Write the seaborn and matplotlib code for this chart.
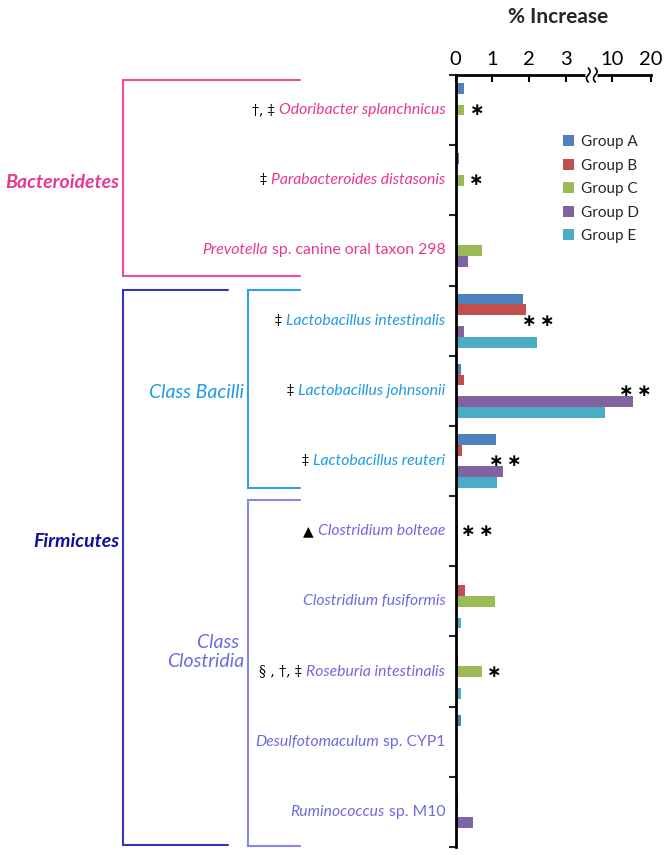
import numpy as np
import pandas as pd
import matplotlib
matplotlib.use("Agg")
import matplotlib.pyplot as plt
import seaborn as sns
from matplotlib.offsetbox import TextArea, HPacker, AnnotationBbox
from matplotlib.lines import Line2D
from matplotlib.patches import Patch

# ---------------- data ----------------
species = [
    "Odoribacter splanchnicus",
    "Parabacteroides distasonis",
    "Prevotella sp. canine oral taxon 298",
    "Lactobacillus intestinalis",
    "Lactobacillus johnsonii",
    "Lactobacillus reuteri",
    "Clostridium bolteae",
    "Clostridium fusiformis",
    "Roseburia intestinalis",
    "Desulfotomaculum sp. CYP1",
    "Ruminococcus sp. M10",
]
groups = ["Group A", "Group B", "Group C", "Group D", "Group E"]
group_a = [0.23, 0.10, 0.00, 1.84, 0.14, 1.09, 0.00, 0.00, 0.00, 0.15, 0.00]
group_b = [0.00, 0.00, 0.00, 1.91, 0.23, 0.16, 0.00, 0.24, 0.05, 0.00, 0.06]
group_c = [0.22, 0.22, 0.71, 0.00, 0.00, 0.00, 0.06, 1.07, 0.71, 0.00, 0.00]
group_d = [0.02, 0.02, 0.33, 0.23, 15.5, 1.29, 0.06, 0.00, 0.00, 0.02, 0.46]
group_e = [0.00, 0.00, 0.00, 2.21, 8.9, 1.13, 0.05, 0.14, 0.14, 0.00, 0.00]
colors = ["#4F81BD", "#C0504D", "#9BBB59", "#8064A2", "#4BACC6"]

# label pieces: (prefix symbols, italic part, roman part)
prefixes = ["\u2020, \u2021", "\u2021", "", "\u2021", "\u2021", "\u2021",
            "\u25B2", "", "\u00A7 , \u2020, \u2021", "", ""]
italic_parts = ["Odoribacter splanchnicus", "Parabacteroides distasonis", "Prevotella",
                "Lactobacillus intestinalis", "Lactobacillus johnsonii", "Lactobacillus reuteri",
                "Clostridium bolteae", "Clostridium fusiformis", "Roseburia intestinalis",
                "Desulfotomaculum", "Ruminococcus"]
roman_parts = ["", "", "sp. canine oral taxon 298", "", "", "", "", "", "", "sp. CYP1", "sp. M10"]
stars = ["*", "*", "", "**", "**", "**", "**", "", "*", "", ""]
star_x = [0.58, 0.55, 0, 2.24, 15.9, 1.34, 0.58, 0, 1.04, 0, 0]

pink = "#E8388F"
bacilli_col = "#1F9BE3"
clos_col = "#6F6AE0"
label_colors = [pink] * 3 + [bacilli_col] * 3 + [clos_col] * 5

df = pd.DataFrame({"species": species, "Group A": group_a, "Group B": group_b,
                   "Group C": group_c, "Group D": group_d, "Group E": group_e})
long = df.melt(id_vars="species", var_name="group", value_name="value")

# ---------------- style ----------------
sns.set_theme(style="white")
plt.rcParams["font.family"] = ["Lato", "DejaVu Sans"]

W, H = 671, 855
fig = plt.figure(figsize=(W / 100, H / 100), dpi=100)
ax = fig.add_axes([455.7 / W, 1 - 847 / H, 195 / W, 772 / H])

sns.barplot(data=long, x="value", y="species", hue="group", orient="h",
            order=species, hue_order=groups, palette=colors, saturation=1,
            width=0.77, errorbar=None, linewidth=0, ax=ax)

# broken x scale
P2 = 4.255
s_mid = (P2 - 3) / 7.0
s_hi = 0.1045


def fwd(v):
    v = np.asarray(v, dtype=float)
    return np.where(v <= 3, v, np.where(v <= 10, 3 + (v - 3) * s_mid, P2 + (v - 10) * s_hi))


def inv(u):
    u = np.asarray(u, dtype=float)
    return np.where(u <= 3, u, np.where(u <= P2, 3 + (u - 3) / s_mid, 10 + (u - P2) / s_hi))


ax.set_xscale("function", functions=(fwd, inv))
ax.set_xlim(0, 20)
ax.set_ylim(len(species) - 0.5, -0.5)
ax.set_xticks([0, 1, 2, 3, 10, 20], labels=["0", "1", "2", "3", "10", "20"])
ax.xaxis.tick_top()
ax.tick_params(axis="x", direction="in", length=5, width=1.5, pad=5, labelsize=14.5,
               colors="black")
ax.set_yticks(np.arange(-0.5, len(species), 1.0), labels=[])
ax.tick_params(axis="y", direction="out", length=5, width=1.5, left=True)
ax.minorticks_off()
for s in ["right", "bottom"]:
    ax.spines[s].set_visible(False)
for s in ["top", "left"]:
    ax.spines[s].set_color("black")
    ax.spines[s].set_linewidth(2)
ax.set_ylabel("")
ax.set_xlabel("% Increase", fontsize=15, fontweight="bold", va="center")
ax.xaxis.set_label_position("top")
ax.xaxis.set_label_coords((558 - 455.7) / 195, (847 - 23) / 772)

# legend
handles = [Patch(facecolor=c, edgecolor="none") for c in colors]
ax.legend(handles, groups, loc="upper left", bbox_to_anchor=(0.55, 0.922), frameon=False,
          fontsize=11, handlelength=0.75, handleheight=0.75, handletextpad=0.4,
          labelspacing=0.62, borderpad=0, borderaxespad=0)

# stars
for i, (st, sx) in enumerate(zip(stars, star_x)):
    if st:
        ax.text(sx, i, "\u2009".join("\u2217" * len(st)), ha="center", va="center",
                fontsize=12.5, fontweight="bold", color="black", family="DejaVu Sans")

# species labels
for i in range(len(species)):
    parts = []
    if prefixes[i]:
        fam = "DejaVu Sans" if prefixes[i] == "\u25B2" else "DejaVu Serif"
        parts.append(TextArea(prefixes[i], textprops=dict(color="black", fontsize=10, family=fam)))
    parts.append(TextArea(italic_parts[i], textprops=dict(color=label_colors[i], fontsize=11.3,
                                                          fontstyle="italic")))
    if roman_parts[i]:
        parts.append(TextArea(roman_parts[i], textprops=dict(color=label_colors[i], fontsize=11.3)))
    box = HPacker(children=parts, align="baseline", pad=0, sep=3)
    ab = AnnotationBbox(box, (0, i), xycoords=ax.get_yaxis_transform(),
                        xybox=(-7.5, 0), boxcoords="offset points", box_alignment=(1, 0.5),
                        frameon=False, pad=0, annotation_clip=False)
    ax.add_artist(ab)


# brackets (figure pixel coordinates)
def fig_line(xs, ys, color, lw=1.5):
    fig.add_artist(Line2D([x / W for x in xs], [1 - y / H for y in ys],
                          transform=fig.transFigure, color=color, lw=lw,
                          solid_joinstyle="miter"))


fig_line([300, 123, 123, 300], [80, 80, 276, 276], "#EE4C9E")
fig_line([228, 123, 123, 228], [290, 290, 845, 845], "#3434B4")
fig_line([300, 248, 248, 300], [290, 290, 488, 488], "#2FA0E6")
fig_line([300, 248, 248, 300], [500, 500, 846, 846], "#8686F0")

fig.text(119 / W, 1 - 182 / H, "Bacteroidetes", ha="right", va="center", fontsize=14,
         fontweight="bold", fontstyle="italic", color=pink)
fig.text(119 / W, 1 - 541 / H, "Firmicutes", ha="right", va="center", fontsize=14,
         fontweight="bold", fontstyle="italic", color="#10109E")
fig.text(244 / W, 1 - 392 / H, "Class Bacilli", ha="right", va="center", fontsize=14,
         fontstyle="italic", color=bacilli_col)
fig.text(244 / W, 1 - 652 / H, "Class \nClostridia", ha="right", va="center", fontsize=14,
         fontstyle="italic", color=clos_col, multialignment="right", linespacing=1.15)

# axis break marker
fig.canvas.draw()
xb_disp = ax.transData.transform((6.9, 0))[0]
yb_disp = ax.transAxes.transform((0, 1))[1]
xb = xb_disp
yb = H - yb_disp
fig_line([xb - 3.5, xb + 3.5], [yb, yb], "white", lw=4)
t = np.linspace(0, 2 * np.pi, 50)
for dx in (-3.5, 3.5):
    xs = xb + dx + 1.8 * np.sin(t)
    ys = yb - 7 + 14 * t / (2 * np.pi)
    fig_line(list(xs), list(ys), "black", lw=1.2)

fig.savefig("out.png", dpi=100)
